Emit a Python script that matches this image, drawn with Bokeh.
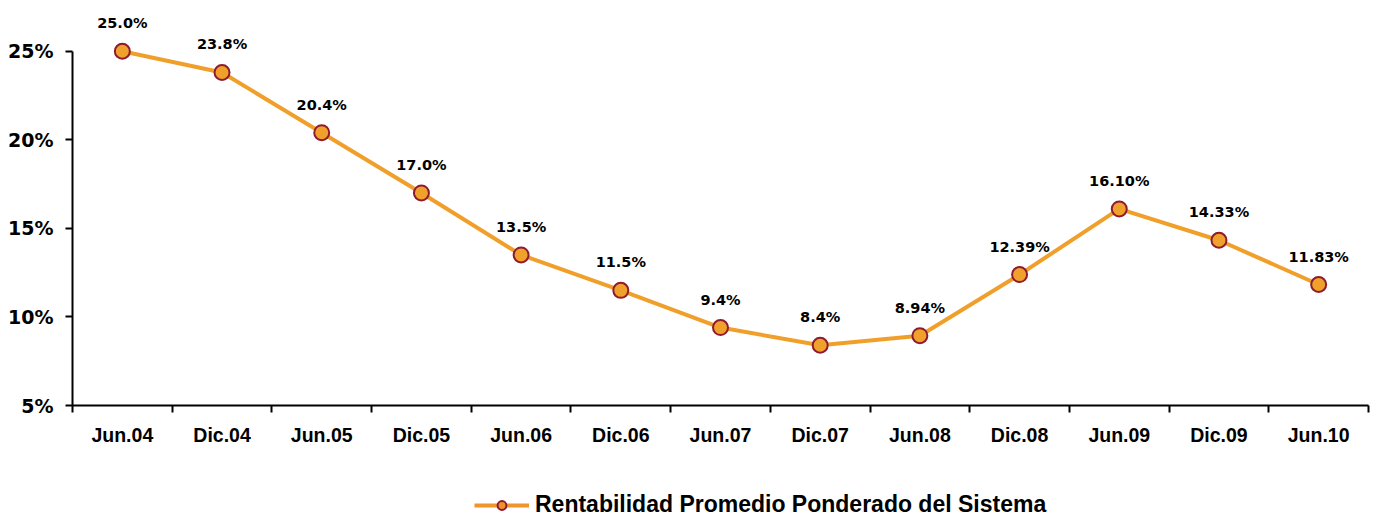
from bokeh.plotting import figure
from bokeh.layouts import column
from bokeh.models import (Range1d, FixedTicker, Legend, LegendItem, ColumnDataSource, LinearAxis)
from bokeh.core.properties import value
from bokeh.embed import file_html
from bokeh.resources import INLINE

categories = ["Jun.04", "Dic.04", "Jun.05", "Dic.05", "Jun.06", "Dic.06", "Jun.07",
              "Dic.07", "Jun.08", "Dic.08", "Jun.09", "Dic.09", "Jun.10"]
values = [25.0, 23.8, 20.4, 17.0, 13.5, 11.5, 9.4, 8.4, 8.94, 12.39, 16.10, 14.33, 11.83]
labels = ["25.0%", "23.8%", "20.4%", "17.0%", "13.5%", "11.5%", "9.4%", "8.4%",
          "8.94%", "12.39%", "16.10%", "14.33%", "11.83%"]
y_ticks = [5, 10, 15, 20, 25]
series_name = "Rentabilidad Promedio Ponderado del Sistema"

xs = [i + 0.5 for i in range(len(categories))]
src = ColumnDataSource(dict(x=xs, y=values, lab=labels))

LINE = "#F0A02A"
FILL = "#EFA12B"
EDGE = "#8E1B2F"

p = figure(frame_width=1296, frame_height=395, output_backend="svg", toolbar_location=None,
           x_range=Range1d(0, len(categories)), y_range=Range1d(5, 27.3),
           x_axis_location=None, y_axis_location=None)
p.min_border_left = 72
p.min_border_right = 5
p.min_border_top = 10
p.min_border_bottom = 60
p.outline_line_color = None
p.grid.visible = False
p.background_fill_color = "white"

# y axis
ya = LinearAxis(ticker=FixedTicker(ticks=y_ticks), bounds=(5, 25))
ya.major_label_overrides = {t: f"{t}%" for t in y_ticks}
ya.axis_line_width = 2
ya.axis_line_color = "black"
ya.major_tick_line_width = 2
ya.major_tick_in = 0
ya.major_tick_out = 7
ya.minor_tick_line_color = None
ya.major_label_text_font = "DejaVu Sans"
ya.major_label_text_font_style = "bold"
ya.major_label_text_font_size = "19px"
ya.major_label_text_color = "black"
ya.major_label_standoff = 12
p.add_layout(ya, "left")

# x axis: labels at category centers, tick marks at boundaries (minor ticks)
xa = LinearAxis(ticker=FixedTicker(ticks=xs, minor_ticks=list(range(len(categories) + 1))))
xa.major_label_overrides = {x: c for x, c in zip(xs, categories)}
xa.axis_line_width = 2
xa.axis_line_color = "black"
xa.major_tick_line_color = None
xa.major_tick_in = 0
xa.major_tick_out = 0
xa.minor_tick_line_color = "black"
xa.minor_tick_line_width = 2
xa.minor_tick_in = 0
xa.minor_tick_out = 7
xa.major_label_text_font = "Liberation Sans"
xa.major_label_text_font_style = "bold"
xa.major_label_text_font_size = "19.5px"
xa.major_label_text_color = "black"
xa.major_label_standoff = 11
p.add_layout(xa, "below")

p.line("x", "y", source=src, line_color=LINE, line_width=4)
p.scatter("x", "y", source=src, size=15, fill_color=FILL, line_color=EDGE, line_width=2)

p.text("x", "y", text="lab", source=src, x_offset=0, y_offset=-20,
       text_align="center", text_baseline="bottom",
       text_font=value("DejaVu Sans"), text_font_style="bold",
       text_font_size="14.5px", text_color="black")

# legend strip below the chart (its renderers use the series data, which lies
# outside this strip's ranges, so only the legend glyph is shown)
lg = figure(width=1373, height=55, output_backend="svg", toolbar_location=None,
            x_range=Range1d(0, 1), y_range=Range1d(0, 1),
            x_axis_location=None, y_axis_location=None, min_border=0)
lg.outline_line_color = None
lg.grid.visible = False
l_ln = lg.line("x", "y", source=src, line_color="#F0952C", line_width=4)
l_sc = lg.scatter("x", "y", source=src, size=14, fill_color="#EE922C", line_color=EDGE, line_width=2)
legend = Legend(items=[LegendItem(label=series_name, renderers=[l_ln, l_sc])],
                location=(402, 2), orientation="horizontal",
                label_text_font="Liberation Sans", label_text_font_style="bold",
                label_text_font_size="23px", label_text_color="black",
                glyph_width=55, glyph_height=22, label_standoff=6, label_height=22,
                border_line_color=None, background_fill_alpha=0,
                padding=0, margin=0)
lg.add_layout(legend, "center")

layout = column(p, lg, spacing=0)
open("out.html", "w").write(file_html(layout, INLINE))
